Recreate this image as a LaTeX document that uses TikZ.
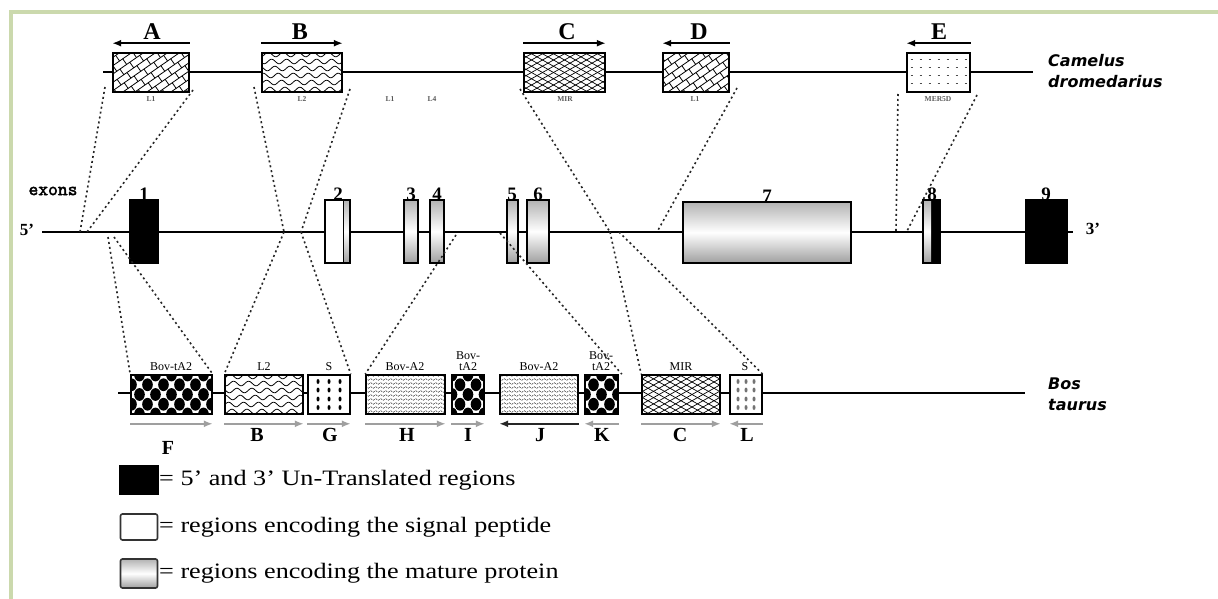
\documentclass[tikz,border=0pt]{standalone}
\usepackage{fontspec}
\setmainfont{Liberation Serif}
\newfontfamily\spfont{DejaVu Sans}
\newfontfamily\exfont[AutoFakeBold=2.5]{Latin Modern Mono}
\usetikzlibrary{arrows.meta,patterns.meta}
\definecolor{framegreen}{HTML}{CBD9AD}
\newcommand\stretchtxt[1]{\scalebox{1.19}[1]{#1}}
\tikzset{
  box/.style={draw, line width=1.6pt, inner sep=0pt, preaction={fill=white}},
  exon/.style={draw, line width=1.4pt, inner sep=0pt, minimum height=63pt},
  mature/.style={top color=gray!60, bottom color=gray!75, middle color=white},
  conn/.style={line width=1.6pt, dash pattern=on 2pt off 3pt, black!85},
  gline/.style={line width=1.3pt},
  toparr/.style={line width=1.7pt, -{Latex[length=9pt,width=7pt]}},
  botarr/.style={line width=1.8pt, gray!75, -{Latex[length=9pt,width=7pt]}},
  botarrk/.style={line width=1.8pt, black!85, -{Latex[length=9pt,width=7pt]}},
  toplab/.style={font=\fontsize{24}{24}\selectfont\bfseries, inner sep=0pt},
  botlab/.style={font=\fontsize{20}{20}\selectfont\bfseries, inner sep=0pt},
  exlab/.style={font=\fontsize{19}{19}\selectfont\bfseries, inner sep=0pt, anchor=south},
  tiny/.style={font=\fontsize{7.5}{7.5}\selectfont\bfseries, text=black!65, inner sep=0pt},
  small/.style={font=\fontsize{12}{11}\selectfont, inner sep=0pt, align=center},
  species/.style={font=\spfont\fontsize{16}{16}\selectfont\bfseries\itshape, inner sep=0pt, anchor=west},
  legtxt/.style={font=\fontsize{22}{22}\selectfont, inner sep=0pt, anchor=west},
  l1pat/.style={path picture={
    \foreach \k in {-7,...,7}{
      \draw[line width=0.8pt] ({\k*12-49},34) -- ({\k*12+49},-34);
      \foreach \m in {-5,...,5}{
        \pgfmathsetmacro\pp{\m*12+Mod(\k,2)*6}
        \draw[line width=0.8pt] ({\k*12+0.819*\pp},{-0.574*\pp}) -- ++(3.95,5.63);}
    }}},
  l2pat/.style={path picture={
    \foreach \j in {-18,-11,...,24}{
      \draw[line width=0.8pt] plot[domain=-46:46,samples=70,smooth,variable=\t] (\t,{\j+2.3*sin(\t*24+\j*40)});
    }}},
  mirpat/.style={path picture={
    \foreach \k in {-11,...,11}{
      \draw[line width=0.7pt] ({\k*11-44},-25) -- ({\k*11+44},25);
      \draw[line width=0.7pt] ({\k*11+44},-25) -- ({\k*11-44},25);
    }}},
  epat/.style={path picture={
    \foreach \i in {-28,-19,...,30}{\foreach \j in {-13,-5,...,20}{\draw[line width=0.6pt,black!70] (\i,\j) -- ++(2.5,0);}}
    }},
  chkpat/.style={path picture={
    \foreach \i in {-6,...,6}{\foreach \j in {-2,...,2}{
      \pgfmathtruncatemacro\pp{Mod(\i+\j,2)}
      \ifnum\pp=0 \fill ({\i*8},{\j*9.75}) ellipse[x radius=5.3,y radius=6.4];\fi }}
    }},
  spat/.style n args={2}{path picture={
    \foreach \i in {#1}{\foreach \j in {-13,-4.5,4.5,13}{\fill[#2] (\i,\j) ellipse[x radius=1.5,y radius=2.5];}}
    }},
  dotpat/.style={path picture={
    \foreach \i in {-40,-35,...,40}{\foreach \j in {-20,-16,...,20}{\draw[line width=0.6pt,black!70] (\i,\j) -- ++(1.6,1.2) (\i+2.5,\j+2) -- ++(1.6,-1.2);}}
    }}
}
\begin{document}
\begin{tikzpicture}[x=1pt,y=-1pt]
\useasboundingbox (0,0) rectangle (1218,599);
\fill[white] (0,0) rectangle (1218,599);
\draw[framegreen,line width=4pt] (11,599) -- (11,12.5) -- (1218,12.5);

% ---------- lines ----------
\coordinate (t0) at (103,72);  \coordinate (t1) at (1033,72);
\coordinate (m0) at (42,232);  \coordinate (m1) at (1073,232);
\coordinate (b0) at (118,393); \coordinate (b1) at (1025,393);
\draw[gline] (t0) -- (t1);
\draw[gline] (m0) -- (m1);
\draw[gline] (b0) -- (b1);

% ---------- top row (Camelus) ----------
\node[box, l1pat, minimum width=76pt, minimum height=39pt] (A) at (151,72.5) {};
\node[box, l2pat, minimum width=80pt, minimum height=39pt] (B) at (302,72.5) {};
\node[box, mirpat, minimum width=81pt, minimum height=39pt] (C) at (564.5,72.5) {};
\node[box, l1pat, minimum width=66pt, minimum height=39pt] (D) at (696,72.5) {};
\node[box, epat, minimum width=63pt, minimum height=39pt] (E) at (938.5,72.5) {};

\draw[toparr] ([yshift=9pt]A.north east) -- ([yshift=9pt]A.north west);
\draw[toparr] ([yshift=9pt]B.north west) -- ([yshift=9pt]B.north east);
\draw[toparr] ([yshift=9pt]C.north west) -- ([yshift=9pt]C.north east);
\draw[toparr] ([yshift=9pt]D.north east) -- ([yshift=9pt]D.north west);
\draw[toparr] ([yshift=9pt]E.north east) -- ([yshift=9pt]E.north west);

\node[toplab] (lA) at (152,32) {A};
\node[toplab] (lB) at (300,32) {B};
\node[toplab] (lC) at (567,32) {C};
\node[toplab] (lD) at (699,32) {D};
\node[toplab] (lE) at (939,32) {E};

\node[tiny] (sA) at (151,99) {L1};
\node[tiny] (sB) at (302,99) {L2};
\node[tiny] (sX1) at (390,99) {L1};
\node[tiny] (sX2) at (432,99) {L4};
\node[tiny] (sC) at (565,99) {MIR};
\node[tiny] (sD) at (695,99) {L1};
\node[tiny] (sE) at (938,99) {MER5D};

\node[species] (cam1) at (1048,61) {Camelus};
\node[species] (cam2) at (1048,82) {dromedarius};

% ---------- middle row (exons) ----------
\node[exon, fill=black, minimum width=28pt] (x1) at (144,231.5) {};
\node[exon, fill=white, minimum width=25pt,
      path picture={\shade[mature] ([xshift=-7pt]path picture bounding box.north east) rectangle (path picture bounding box.south east);
                    \draw[line width=1pt] ([xshift=-7pt]path picture bounding box.north east) -- ([xshift=-7pt]path picture bounding box.south east);}] (x2) at (337.5,231.5) {};
\node[exon, mature, minimum width=14pt] (x3) at (411,231.5) {};
\node[exon, mature, minimum width=14pt] (x4) at (437,231.5) {};
\node[exon, mature, minimum width=11pt] (x5) at (512.5,231.5) {};
\node[exon, mature, minimum width=22pt] (x6) at (538,231.5) {};
\node[exon, mature, minimum width=168pt, minimum height=61pt] (x7) at (767,232.5) {};
\node[exon, fill=black, minimum width=17pt,
      path picture={\shade[mature] (path picture bounding box.north west) rectangle ([xshift=8pt]path picture bounding box.south west);}] (x8) at (931.5,231.5) {};
\node[exon, fill=black, minimum width=41pt] (x9) at (1046.5,231.5) {};

\node[exlab] (n1) at (144,201) {1};
\node[exlab] (n2) at (338,201) {2};
\node[exlab] (n3) at (411,201) {3};
\node[exlab] (n4) at (437,201) {4};
\node[exlab] (n5) at (512,201) {5};
\node[exlab] (n6) at (538,201) {6};
\node[exlab] (n7) at (767,203) {7};
\node[exlab] (n8) at (932,201) {8};
\node[exlab] (n9) at (1046,201) {9};

\node[font=\fontsize{17}{17}\selectfont\bfseries, inner sep=0pt] (p5) at (27,230) {5’};
\node[font=\fontsize{17}{17}\selectfont\bfseries, inner sep=0pt] (p3) at (1093,229) {3’};
\node[font=\exfont\fontsize{19}{19}\selectfont\bfseries, inner sep=0pt] (exons) at (53,191) {exons};

% ---------- bottom row (Bos) ----------
\node[box, chkpat, minimum width=81pt, minimum height=39pt] (F) at (171.5,394.5) {};
\node[box, l2pat, minimum width=78pt, minimum height=39pt] (B2) at (264,394.5) {};
\node[box, spat={-11,0,11}{black}, minimum width=42pt, minimum height=39pt] (G) at (329,394.5) {};
\node[box, dotpat, minimum width=79pt, minimum height=39pt] (H) at (405.5,394.5) {};
\node[box, chkpat, minimum width=32pt, minimum height=39pt] (I) at (468,394.5) {};
\node[box, dotpat, minimum width=78pt, minimum height=39pt] (J) at (539,394.5) {};
\node[box, chkpat, minimum width=33pt, minimum height=39pt] (K) at (601.5,394.5) {};
\node[box, mirpat, minimum width=78pt, minimum height=39pt] (C2) at (681,394.5) {};
\node[box, spat={-8,0,8}{black!55}, minimum width=32pt, minimum height=39pt] (L) at (746,394.5) {};

\node[small] (sF) at (171,367) {Bov-tA2};
\node[small] (sB2) at (264,367) {L2};
\node[small] (sG) at (329,367) {S};
\node[small] (sH) at (405,367) {Bov-A2};
\node[small] (sI) at (468,361) {Bov-\\tA2};
\node[small] (sJ) at (539,367) {Bov-A2};
\node[small] (sK) at (601,361) {Bov-\\tA2};
\node[small] (sC2) at (681,367) {MIR};
\node[small] (sL) at (745,367) {S};

\draw[botarr] ([yshift=-9pt]F.south west) -- ([yshift=-9pt]F.south east);
\draw[botarr] ([yshift=-9pt]B2.south west) -- ([yshift=-9pt]B2.south east);
\draw[botarr] ([yshift=-9pt]G.south west) -- ([yshift=-9pt]G.south east);
\draw[botarr] ([yshift=-9pt]H.south west) -- ([yshift=-9pt]H.south east);
\draw[botarr] ([yshift=-9pt]I.south west) -- ([yshift=-9pt]I.south east);
\draw[botarrk] ([yshift=-9pt]J.south east) -- ([yshift=-9pt]J.south west);
\draw[botarr] ([yshift=-9pt]K.south east) -- ([yshift=-9pt]K.south west);
\draw[botarr] ([yshift=-9pt]C2.south west) -- ([yshift=-9pt]C2.south east);
\draw[botarr] ([yshift=-9pt]L.south east) -- ([yshift=-9pt]L.south west);

\node[botlab] (lF) at (168,448) {F};
\node[botlab] (lB2) at (257,435) {B};
\node[botlab] (lG) at (330,435) {G};
\node[botlab] (lH) at (407,435) {H};
\node[botlab] (lI) at (468,435) {I};
\node[botlab] (lJ) at (540,435) {J};
\node[botlab] (lK) at (602,435) {K};
\node[botlab] (lC2) at (680,435) {C};
\node[botlab] (lL) at (747,435) {L};

\node[species] (bos1) at (1048,384) {Bos};
\node[species] (bos2) at (1048,405) {taurus};

% ---------- connectors ----------
\coordinate (ua1) at (105,87);  \coordinate (ua2) at (193,90);
\coordinate (ub1) at (254,87);  \coordinate (ub2) at (350,89);
\coordinate (uc1) at (520,89);  \coordinate (ud2) at (737,88);
\coordinate (ue1) at (898,94);  \coordinate (ue2) at (977,95);
\coordinate (ma1) at (80,232);  \coordinate (ma2) at (87,232);
\coordinate (mf1) at (108,237); \coordinate (mf2) at (114,237);
\coordinate (mb1) at (284,232); \coordinate (mb2) at (301,232);
\coordinate (mh) at (456,235);  \coordinate (mk) at (500,233);
\coordinate (mc1) at (610,232); \coordinate (mc2) at (619,232);
\coordinate (md) at (657,232);
\coordinate (me1) at (896,231); \coordinate (me2) at (907,231);

\draw[conn] (ua1) -- (ma1);
\draw[conn] (ua2) -- (ma2);
\draw[conn] (ub1) -- (mb1);
\draw[conn] (ub2) -- (mb2);
\draw[conn] (uc1) -- (mc1);
\draw[conn] (ud2) -- (md);
\draw[conn] (ue1) -- (me1);
\draw[conn] (ue2) -- (me2);
\draw[conn] (mf1) -- (F.north west);
\draw[conn] (mf2) -- (F.north east);
\draw[conn] (mb1) -- (B2.north west);
\draw[conn] (mb2) -- (G.north east);
\draw[conn] (mh) -- (H.north west);
\draw[conn] (mk) -- ([xshift=3pt]K.north east);
\draw[conn] (mc1) -- (C2.north west);
\draw[conn] (mc2) -- (L.north east);

% ---------- legend ----------
\node[draw, fill=black, line width=1pt, inner sep=0pt, minimum width=39pt, minimum height=29pt] (k1) at (139,479.5) {};
\node[draw=black!80, fill=white, line width=1.6pt, rounded corners=2pt, inner sep=0pt, minimum width=37pt, minimum height=26pt] (k2) at (139,527) {};
\node[draw=black!80, mature, line width=1.6pt, rounded corners=2pt, inner sep=0pt, minimum width=37pt, minimum height=29pt] (k3) at (139,573.5) {};
\node[legtxt] (t1) at (159,480) {\stretchtxt{= 5’ and 3’ Un-Translated regions}};
\node[legtxt] (t2) at (159,527) {\stretchtxt{= regions encoding the signal peptide}};
\node[legtxt] (t3) at (159,573) {\stretchtxt{= regions encoding the mature protein}};
\end{tikzpicture}
\end{document}
